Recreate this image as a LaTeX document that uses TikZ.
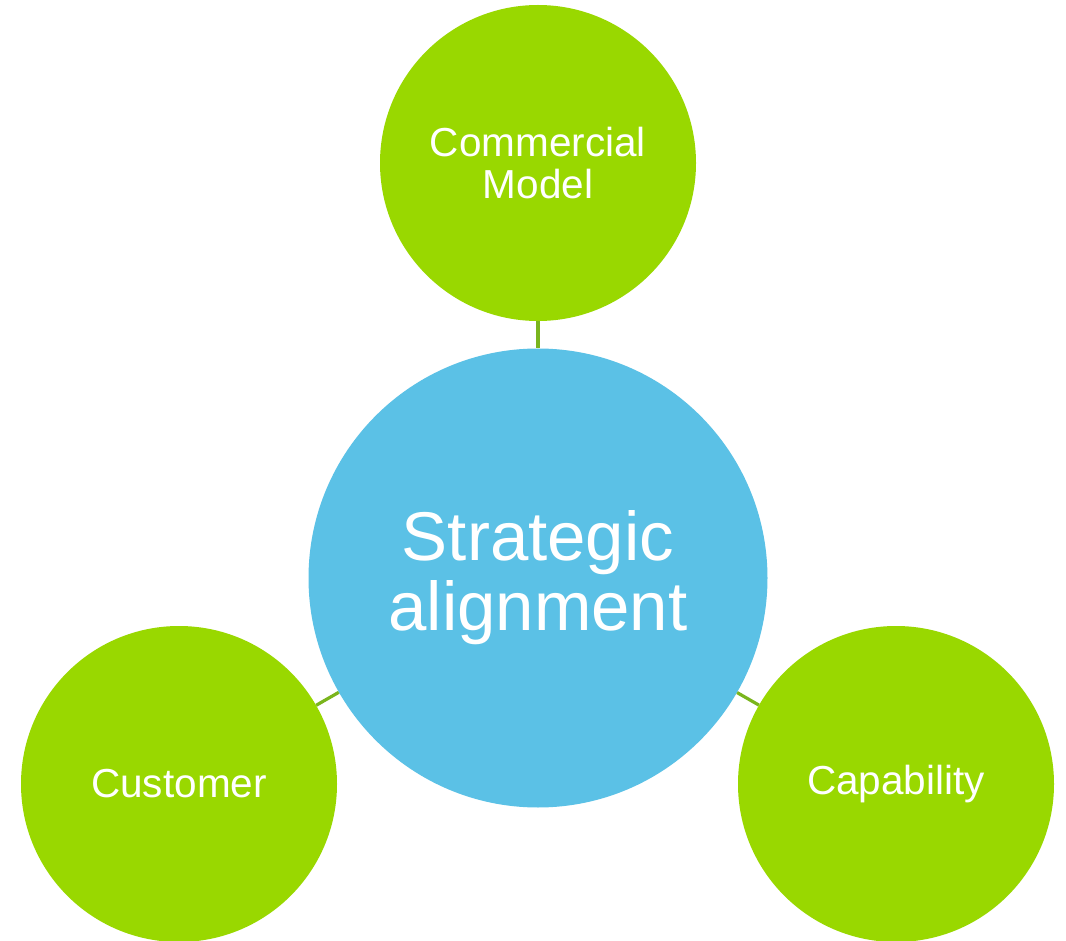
\documentclass[tikz,border=0pt]{standalone}
\usepackage{fontspec}
\setmainfont{Liberation Sans}
\definecolor{leafgreen}{HTML}{99D800}
\definecolor{skyblue}{HTML}{5BC1E6}
\definecolor{linkgreen}{HTML}{7AB51D}
\begin{document}
\begin{tikzpicture}[x=1pt,y=-1pt,
  outer/.style={circle,fill=leafgreen,draw=none,minimum size=316pt,inner sep=0pt,text=white,font=\fontsize{40.5}{42}\selectfont,align=center},
  hub/.style={circle,fill=skyblue,draw=none,minimum size=459pt,inner sep=0pt,text=white,font=\fontsize{69}{70}\selectfont,align=center},
  link/.style={draw=linkgreen,line width=3.2pt}]
\useasboundingbox (0,0) rectangle (1066,941);
\fill[white] (0,0) rectangle (1066,941);
\node[hub] (c) at (538,578) {Strategic\\alignment};
\node[outer] (t) at (538,163) {Commercial\\Model};
\node[outer] (l) at (179,784) {Customer};
\node[outer] (r) at (896,784) {Capability};
\draw[link] (t) -- (c);
\draw[link] (l) -- (c);
\draw[link] (r) -- (c);
\end{tikzpicture}
\end{document}
